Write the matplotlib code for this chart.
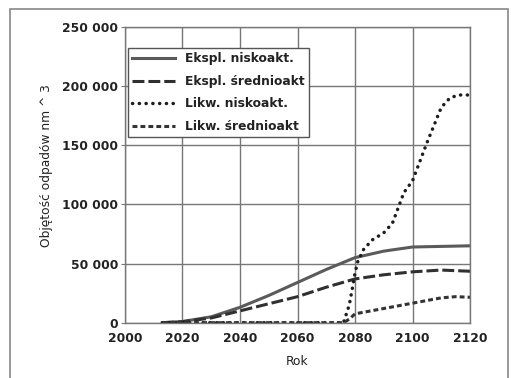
import matplotlib
matplotlib.use("Agg")
import matplotlib.pyplot as plt
from matplotlib.patches import Rectangle
from matplotlib.ticker import FuncFormatter

plt.rcParams['font.family'] = ['DejaVu Sans']

# Data
years_ekspl = [2013, 2020, 2030, 2040, 2050, 2060, 2070, 2080, 2090, 2100, 2110, 2120]
ekspl_nisko = [0, 1000, 5000, 13000, 23000, 34000, 45000, 55000, 60500, 64000, 64500, 65000]
ekspl_sredni = [0, 800, 4000, 10000, 16000, 22000, 30000, 37000, 40500, 43000, 44500, 43500]

years_likw_n = [2013, 2076, 2078, 2079, 2080, 2081, 2083, 2086, 2090, 2093, 2095, 2097,
                2100, 2105, 2110, 2113, 2116, 2120]
likw_nisko = [0, 0, 15000, 28000, 42000, 52000, 62000, 70000, 76000, 84000, 97000, 110000,
              120000, 152000, 182000, 190000, 192500, 192500]

years_likw_s = [2013, 2076, 2078, 2080, 2090, 2100, 2110, 2115, 2120]
likw_sredni = [0, 0, 3000, 7500, 12000, 16500, 21000, 22000, 21500]

series_labels = ["Ekspl. niskoakt.", "Ekspl. średnioakt", "Likw. niskoakt.", "Likw. średnioakt"]
x_ticks = [2000, 2020, 2040, 2060, 2080, 2100, 2120]
y_ticks = [0, 50000, 100000, 150000, 200000, 250000]

fig = plt.figure(figsize=(5.11, 3.78), dpi=100)
ax = fig.add_axes([0.2446, 0.1463, 0.6752, 0.7823])

ax.plot(years_ekspl, ekspl_nisko, color='#5a5a5a', lw=2.2, ls='-', label=series_labels[0])
ax.plot(years_ekspl, ekspl_sredni, color='#303030', lw=2.2, ls=(0, (3.9, 1.3)), label=series_labels[1])
ax.plot(years_likw_n, likw_nisko, color='#1e1e1e', lw=2.5, ls=(0, (0.05, 1.9)),
        dash_capstyle='round', label=series_labels[2])
ax.plot(years_likw_s, likw_sredni, color='#333333', lw=2.2, ls=(0, (1.6, 1.0)), label=series_labels[3])

ax.set_xlim(2000, 2120)
ax.set_ylim(0, 250000)
ax.set_xticks(x_ticks)
ax.set_yticks(y_ticks)
ax.yaxis.set_major_formatter(FuncFormatter(lambda v, p: f"{int(v):,}".replace(",", " ")))
ax.grid(True, color='#777777', lw=1.0)
ax.set_axisbelow(True)
for s in ax.spines.values():
    s.set_color('#777777')
    s.set_linewidth(1.0)
ax.tick_params(axis='y', length=3, color='#777777', labelsize=8.8, pad=2)
ax.tick_params(axis='x', length=0, labelsize=8.8, pad=7)
for t in ax.get_xticklabels() + ax.get_yticklabels():
    t.set_color('#222222')
    t.set_fontweight('bold')

ax.set_xlabel("Rok", fontsize=8.8, color='#222222', labelpad=7)
ax.set_ylabel("Objętość odpadów nm ^ 3", fontsize=8.8, color='#222222')
ax.yaxis.set_label_coords(-0.209, 0.533)

leg = ax.legend(loc='upper left', bbox_to_anchor=(0.009, 0.929), borderaxespad=0,
                prop={'size': 8.8, 'weight': 'bold'}, frameon=True, fancybox=False,
                edgecolor='#555555', framealpha=1, handlelength=3.5, handletextpad=0.8,
                borderpad=0.35, labelspacing=0.78)
leg.get_frame().set_linewidth(1.0)
for t in leg.get_texts():
    t.set_color('#222222')

fig.patches.append(Rectangle((10/511, -0.05), 498/511, 1 - 9/378 + 0.05,
                             transform=fig.transFigure, fill=False,
                             edgecolor='#888888', lw=1.2))

fig.savefig("out.png", dpi=100)
